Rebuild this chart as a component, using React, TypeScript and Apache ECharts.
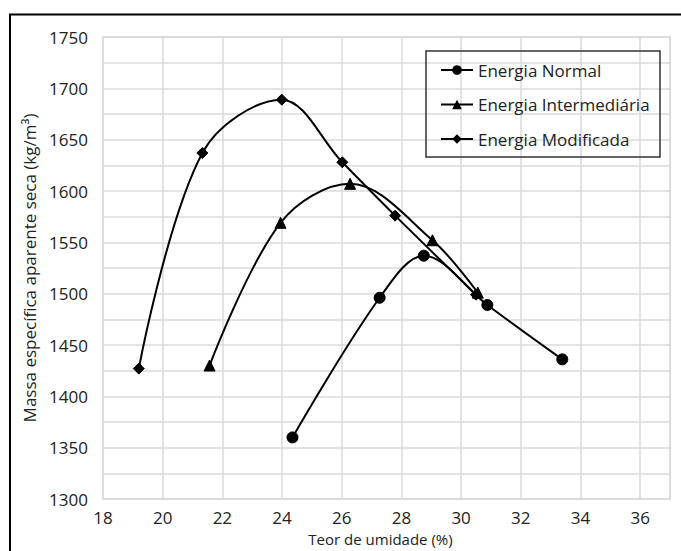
import React, { useEffect, useRef } from "react";
import * as echarts from "echarts";

const seriesNames = ["Energia Normal", "Energia Intermediária", "Energia Modificada"];
const normalX = [24.35, 27.27, 28.75, 30.88, 33.39];
const normalY = [1360, 1496, 1537, 1489, 1436];
const interX = [21.57, 23.95, 26.28, 29.04, 30.56];
const interY = [1430, 1569, 1607, 1552, 1501];
const modX = [19.2, 21.33, 23.99, 26.02, 27.79, 30.5];
const modY = [1427, 1637, 1689, 1628, 1576, 1499];
const symbols = ["circle", "triangle", "diamond"];
const symbolSizes = [11, 11, 11];

const xAxisName = "Teor de umidade (%)";
const yAxisName = "Massa específica aparente seca (kg/m³)";

const FONT = "'Open Sans', 'Noto Sans', sans-serif";
const TEXT = "#222222";
const GRIDC = "#dadada";

function pairs(xs: number[], ys: number[]) {
  return xs.map((x, i) => [x, ys[i]]);
}

export default function App() {
  const ref = useRef<HTMLDivElement>(null);
  useEffect(() => {
    if (!ref.current) return;
    const chart = echarts.init(ref.current, null, { renderer: "svg" });
    const datasets = [pairs(normalX, normalY), pairs(interX, interY), pairs(modX, modY)];
    chart.setOption({
      animation: false,
      backgroundColor: "#ffffff",
      textStyle: { fontFamily: FONT },
      grid: {
        left: 103,
        top: 37,
        right: 11,
        bottom: 52,
        show: true,
        borderColor: GRIDC,
        borderWidth: 1.5,
        containLabel: false,
        outerBoundsMode: "none",
      },
      xAxis: {
        type: "value",
        min: 18,
        max: 37,
        interval: 2,
        name: xAxisName,
        nameLocation: "middle",
        nameGap: 24,
        nameTextStyle: { fontSize: 15, color: TEXT, fontFamily: FONT, lineHeight: 17, padding: [0, 12, 0, 0] },
        axisLine: { show: false },
        axisTick: { show: false },
        axisLabel: { fontSize: 17, color: TEXT, margin: 10, showMaxLabel: false, fontFamily: FONT },
        splitLine: { show: true, lineStyle: { color: GRIDC, width: 1.5 } },
      },
      yAxis: {
        type: "value",
        min: 1300,
        max: 1750,
        interval: 25,
        name: yAxisName,
        nameLocation: "middle",
        nameGap: 63,
        nameRotate: 90,
        nameTextStyle: { fontSize: 17, color: TEXT, fontFamily: FONT },
        axisLine: { show: false },
        axisTick: { show: false },
        axisLabel: {
          fontSize: 17,
          color: TEXT,
          margin: 15,
          fontFamily: FONT,
          formatter: (v: number) => (v % 50 === 0 ? String(v) : ""),
        },
        splitLine: { show: true, lineStyle: { color: GRIDC, width: 1.5 } },
      },
      legend: {
        left: 426,
        top: 51,
        orient: "vertical",
        padding: [9, 8, 8, 14],
        itemWidth: 32,
        itemHeight: 12,
        itemGap: 14.5,
        textStyle: { fontSize: 17, color: TEXT, lineHeight: 20, fontFamily: FONT },
        data: seriesNames,
      },
      graphic: [
        {
          type: "rect",
          shape: { x: 426, y: 51, width: 234, height: 106 },
          style: { fill: "none", stroke: "#333", lineWidth: 1.5 },
          z: 100,
        },
        {
          type: "rect",
          shape: { x: 10, y: 14.5, width: 700, height: 600 },
          style: { fill: "none", stroke: "#000", lineWidth: 2 },
          z: 100,
        },
      ],
      series: seriesNames.map((name, i) => ({
        name,
        type: "line",
        data: datasets[i],
        smooth: 0.35,
        symbol: symbols[i],
        symbolSize: symbolSizes[i],
        showAllSymbol: true,
        lineStyle: { color: "#000", width: 2 },
        itemStyle: { color: "#000", borderColor: "#000" },
        z: 10 - i,
      })),
    });
    return () => chart.dispose();
  }, []);
  return (
    <div
      ref={ref}
      style={{ position: "fixed", left: 0, top: 0, width: 681, height: 551, background: "#fff" }}
    />
  );
}
